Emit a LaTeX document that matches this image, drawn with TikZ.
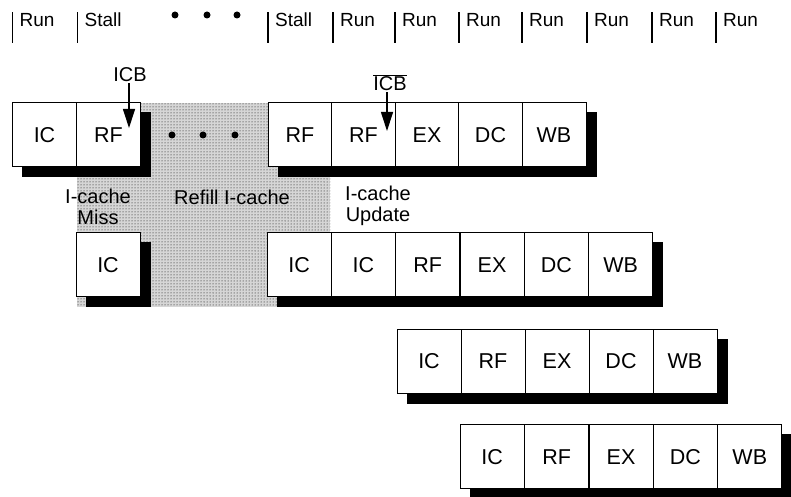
\documentclass[tikz,border=0pt]{standalone}
\usepackage{fontspec}
\setmainfont{Liberation Sans}
\usetikzlibrary{arrows.meta,patterns,backgrounds}

\tikzset{
  stage/.style={draw, line width=1pt, fill=white, minimum width=64pt, minimum height=64pt, inner sep=0pt, font=\fontsize{21.5}{24}\selectfont},
  note/.style={font=\fontsize{20}{21}\selectfont, align=center, inner sep=1pt},
  phase/.style={font=\fontsize{19}{20}\selectfont, anchor=base west, inner sep=0pt},
  tick/.style={line width=1.2pt},
  shade/.style={fill=black},
  refill/.style={fill=black!16, postaction={pattern=dots}},
  sig/.style={line width=1.2pt, -{Triangle[length=19pt,width=12pt]}}
}

\begin{document}
\begin{tikzpicture}[x=1pt, y=1pt]
        \useasboundingbox (0,0) rectangle (791,497);

        % Cycle marks along the top
        \foreach \x/\t [count=\i] in {12.5/Run, 77.5/Stall, 268/Stall, 333/Run, 395/Run, 459/Run, 522/Run, 587/Run, 652/Run, 716/Run} {
            \draw[tick] (\x,454) -- (\x,485);
            \node[phase] (ph\i) at (\x+7,470) {\t};
        }
        \fill (175,482) circle (3.5);
        \fill (207,482) circle (3.5);
        \fill (237,482) circle (3.5);

        % Instruction 1
        \node[stage] (r1a) at (44.5,362) {IC};
        \node[stage] (r1b) at (108.5,362) {RF};
        \node[stage] (r1c) at (300,362) {RF};
        \node[stage] (r1d) at (363.5,362) {RF};
        \node[stage] (r1e) at (427,362) {EX};
        \node[stage] (r1f) at (490.5,362) {DC};
        \node[stage] (r1g) at (554,362) {WB};
        \fill (172,362) circle (3.5);
        \fill (203,362) circle (3.5);
        \fill (235,362) circle (3.5);

        % Instruction 2
        \node[stage] (r2a) at (108,232) {IC};
        \foreach \s [count=\i] in {IC,IC,RF,EX,DC,WB}
            \node[stage] (r2s\i) at ({267+64.3*(\i-0.5)},232) {\s};

        % Instructions 3 and 4
        \foreach \s [count=\i] in {IC,RF,EX,DC,WB}
            \node[stage] (r3s\i) at ({397+64*(\i-0.5)},135.5) {\s};
        \foreach \s [count=\i] in {IC,RF,EX,DC,WB}
            \node[stage] (r4s\i) at ({460+64.4*(\i-0.5)},40) {\s};

        % Stall region and shadows
        \begin{scope}[on background layer]
            \path[refill] (77,394) rectangle (330,190);
            \fill[shade] ([shift={(10,-10)}]r1a.north west) rectangle ([shift={(10,-10)}]r1b.south east);
            \fill[shade] ([shift={(10,-10)}]r1c.north west) rectangle ([shift={(10,-10)}]r1g.south east);
            \fill[shade] ([shift={(10,-10)}]r2a.north west) rectangle ([shift={(10,-10)}]r2a.south east);
            \fill[shade] ([shift={(10,-10)}]r2s1.north west) rectangle ([shift={(10,-10)}]r2s6.south east);
            \fill[shade] ([shift={(10,-10)}]r3s1.north west) rectangle ([shift={(10,-10)}]r3s5.south east);
            \fill[shade] ([shift={(10,-10)}]r4s1.north west) rectangle ([shift={(10,-10)}]r4s5.south east);
        \end{scope}

        % Labels
        \node[note] (miss) at (98,290) {I-cache\\Miss};
        \node[note] (refill) at (232,300) {Refill I-cache};
        \node[note] (upd) at (378,291) {I-cache\\Update};

        % Cache busy signal
        \node[note] (icb) at (130,422) {ICB};
        \coordinate (icbtip) at (129,369);
        \draw[sig] (icb.south -| icbtip) -- (icbtip);
        \node[note] (icbn) at (390,414) {$\overline{\mbox{ICB}}$};
        \coordinate (icbntip) at (387,366);
        \draw[sig] (icbn.south -| icbntip) -- (icbntip);
    \end{tikzpicture}
\end{document}
